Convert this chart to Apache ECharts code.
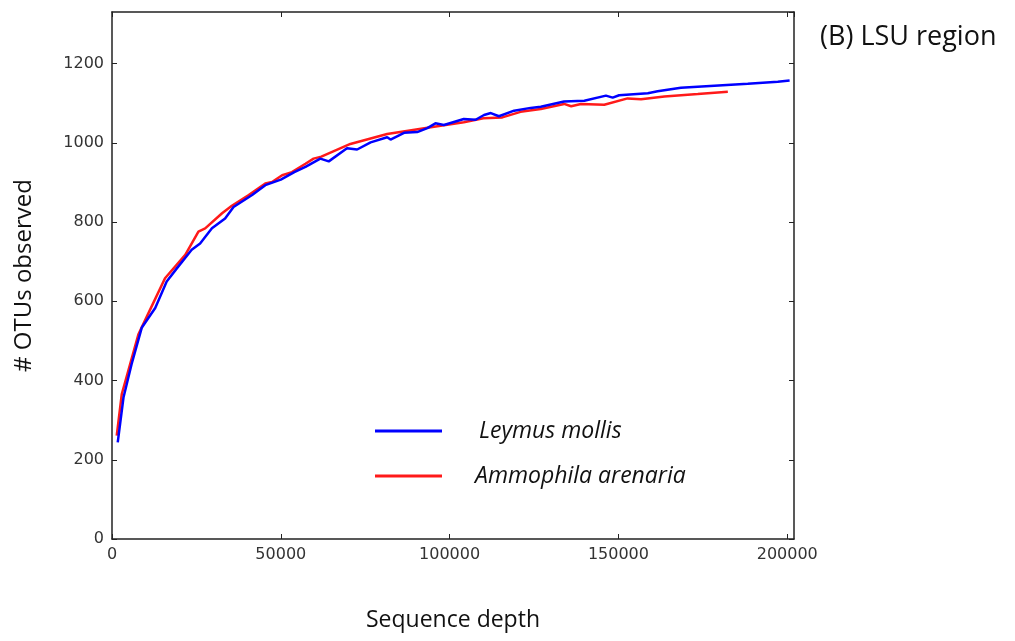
<!DOCTYPE html>
<html>
<head>
<meta charset="utf-8">
<script src="https://cdn.jsdelivr.net/npm/echarts@6/dist/echarts.min.js"></script>
<style>
  html, body { margin: 0; padding: 0; background: #ffffff; }
  #chart { width: 1015px; height: 641px; }
</style>
</head>
<body>
<div id="chart"></div>
<script>
// Leymus mollis (blue)
var depthLeymus = [1700, 3400, 5800, 8800, 12800, 16200, 19200, 23600, 26100, 29600,
  33500, 36000, 41500, 45400, 50000, 54000, 57300, 61700, 64200, 69600,
  72600, 76600, 81500, 82500, 86500, 90400, 93400, 95800, 98300, 104200,
  107700, 110200, 112200, 114600, 119100, 124000, 127000, 133900, 139900, 146300,
  148300, 150200, 158700, 161600, 168500, 178400, 188300, 197200, 200700];
var otuLeymus = [244, 357, 441, 533, 583, 650, 683, 730, 746, 784,
  809, 838, 868, 893, 907, 926, 939, 960, 953, 986,
  983, 1001, 1014, 1008, 1025, 1027, 1037, 1049, 1045, 1060,
  1058, 1070, 1075, 1067, 1081, 1088, 1091, 1104, 1106, 1119,
  1114, 1120, 1125, 1130, 1139, 1144, 1149, 1154, 1157];

// Ammophila arenaria (red)
var depthAmmophila = [1400, 2900, 4800, 7800, 10800, 15700, 21700, 25600, 27600, 32600,
  35500, 40500, 45400, 47400, 50400, 53300, 57300, 59700, 62000, 70600,
  81500, 94400, 104200, 110000, 115600, 121000, 127000, 133900, 136000, 138900,
  145800, 152700, 156700, 163600, 173500, 182400];
var otuAmmophila = [261, 366, 424, 516, 570, 658, 717, 776, 784, 822,
  841, 868, 897, 901, 918, 926, 947, 960, 965, 997,
  1022, 1039, 1052, 1062, 1064, 1078, 1085, 1098, 1092, 1098,
  1096, 1112, 1110, 1117, 1123, 1129];

var seriesNames = ['Leymus mollis', 'Ammophila arenaria'];

function pairs(xs, ys) {
  return xs.map(function (x, i) { return [x, ys[i]]; });
}

var chart = echarts.init(document.getElementById('chart'));

var plain = function (v) { return String(v); };
var tickFont = { fontFamily: 'DejaVu Sans', fontSize: 16, color: '#333333', formatter: plain };
var axisLine = { show: true, onZero: false, lineStyle: { color: '#222222', width: 1.5 } };
var tickIn = { show: true, inside: true, length: 5, lineStyle: { color: '#222222', width: 1 } };

chart.setOption({
  animation: false,
  title: {
    text: '(B) LSU region',
    left: 815,
    top: 19,
    textStyle: { fontFamily: 'Open Sans', fontSize: 27, fontWeight: 'normal', color: '#111111' }
  },
  legend: {
    orient: 'vertical',
    left: 375,
    top: 418,
    padding: 0,
    icon: 'rect',
    itemWidth: 67,
    itemHeight: 3,
    itemGap: 19,
    textStyle: {
      fontFamily: 'Open Sans', fontStyle: 'italic', fontSize: 23, lineHeight: 26, color: '#111111'
    },
    data: [
      { name: seriesNames[0], textStyle: { padding: [0, 0, 0, 32] } },
      { name: seriesNames[1], textStyle: { padding: [0, 0, 0, 28] } }
    ]
  },
  grid: { left: 112, right: 221, top: 12, bottom: 102 },
  xAxis: [
    {
      type: 'value', min: 0, max: 202000, interval: 50000,
      name: 'Sequence depth', nameLocation: 'middle', nameGap: 70,
      nameTextStyle: { fontFamily: 'Open Sans', fontSize: 23, color: '#111111' },
      axisLine: axisLine, axisTick: tickIn,
      axisLabel: Object.assign({ margin: 8, showMaxLabel: false }, tickFont),
      splitLine: { show: false }
    },
    {
      type: 'value', position: 'top', min: 0, max: 202000, interval: 50000,
      axisLine: axisLine, axisTick: tickIn,
      axisLabel: { show: false }, splitLine: { show: false }
    }
  ],
  yAxis: [
    {
      type: 'value', min: 0, max: 1330, interval: 200,
      name: '# OTUs observed', nameLocation: 'middle', nameGap: 76,
      nameTextStyle: { fontFamily: 'Open Sans', fontSize: 24, color: '#111111' },
      axisLine: axisLine, axisTick: tickIn,
      axisLabel: Object.assign({ margin: 8, showMaxLabel: false }, tickFont),
      splitLine: { show: false }
    },
    {
      type: 'value', position: 'right', min: 0, max: 1330, interval: 200,
      axisLine: axisLine, axisTick: tickIn,
      axisLabel: { show: false }, splitLine: { show: false }
    }
  ],
  series: [
    {
      name: seriesNames[0],
      type: 'line',
      z: 3,
      showSymbol: false,
      data: pairs(depthLeymus, otuLeymus),
      itemStyle: { color: '#0000ff' },
      lineStyle: { color: '#0000ff', width: 2.5 }
    },
    {
      name: seriesNames[1],
      type: 'line',
      z: 2,
      showSymbol: false,
      data: pairs(depthAmmophila, otuAmmophila),
      itemStyle: { color: '#ff1a1a' },
      lineStyle: { color: '#ff1a1a', width: 2.5 }
    }
  ]
});
</script>
</body>
</html>
